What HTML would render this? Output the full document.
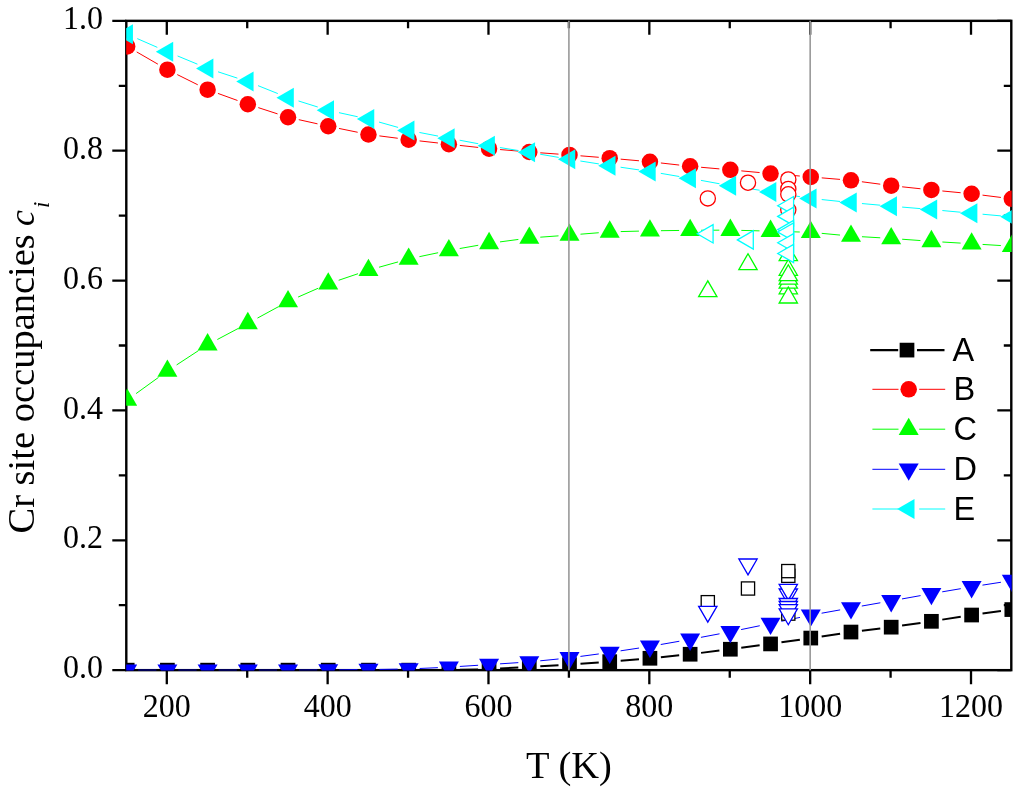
<!DOCTYPE html>
<html><head><meta charset="utf-8"><style>
html,body{margin:0;padding:0;background:#fff;}
svg{display:block;will-change:transform;}
text{font-family:"Liberation Serif",serif;}
text.ls{font-family:"Liberation Sans",sans-serif;}
</style></head><body>
<svg width="1024" height="794" viewBox="0 0 1024 794">
<rect width="1024" height="794" fill="#fff"/>
<defs><clipPath id="pc"><rect x="126.20" y="20.85" width="885.50" height="649.65"/></clipPath></defs>
<rect x="126.30" y="20.85" width="885.00" height="649.30" fill="none" stroke="#000" stroke-width="2.4"/>
<path d="M166.80 670.15V684.15M166.80 20.85V34.85M247.22 670.15V677.65M247.22 20.85V28.35M327.64 670.15V684.15M327.64 20.85V34.85M408.06 670.15V677.65M408.06 20.85V28.35M488.48 670.15V684.15M488.48 20.85V34.85M568.90 670.15V677.65M568.90 20.85V28.35M649.33 670.15V684.15M649.33 20.85V34.85M729.75 670.15V677.65M729.75 20.85V28.35M810.17 670.15V684.15M810.17 20.85V34.85M890.59 670.15V677.65M890.59 20.85V28.35M971.01 670.15V684.15M971.01 20.85V34.85M126.30 670.15H112.30M1011.30 670.15H997.30M126.30 605.22H118.80M1011.30 605.22H1003.80M126.30 540.29H112.30M1011.30 540.29H997.30M126.30 475.36H118.80M1011.30 475.36H1003.80M126.30 410.43H112.30M1011.30 410.43H997.30M126.30 345.50H118.80M1011.30 345.50H1003.80M126.30 280.57H112.30M1011.30 280.57H997.30M126.30 215.64H118.80M1011.30 215.64H1003.80M126.30 150.71H112.30M1011.30 150.71H997.30M126.30 85.78H118.80M1011.30 85.78H1003.80M126.30 20.85H112.30M1011.30 20.85H997.30" stroke="#000" stroke-width="2.3" fill="none"/>
<g clip-path="url(#pc)">
<path d="M138.19 670.15L156.40 670.15M178.40 670.15L196.61 670.15M218.61 670.15L236.82 670.15M258.82 670.15L277.03 670.15M299.03 670.15L317.24 670.15M339.24 670.15L357.45 670.15M379.45 670.15L397.66 670.15M419.66 670.11L437.87 670.06M459.87 669.79L478.09 669.41M500.07 668.56L518.31 667.52M540.28 666.28L558.52 665.25M580.47 663.82L598.75 662.46M620.68 660.72L638.96 659.19M660.87 657.17L679.19 655.34M701.05 652.88L719.43 650.60M741.25 647.80L759.65 645.36M781.44 642.34L799.88 639.66M821.65 636.44L840.10 633.67M861.90 630.71L880.27 628.49M902.07 625.58L920.51 622.90M942.27 619.62L960.74 616.73M982.51 613.55L1000.92 611.05" stroke="#000" stroke-width="2" fill="none"/>
<rect x="119.84" y="662.80" width="14.70" height="14.70" fill="#000"/>
<rect x="160.05" y="662.80" width="14.70" height="14.70" fill="#000"/>
<rect x="200.26" y="662.80" width="14.70" height="14.70" fill="#000"/>
<rect x="240.47" y="662.80" width="14.70" height="14.70" fill="#000"/>
<rect x="280.68" y="662.80" width="14.70" height="14.70" fill="#000"/>
<rect x="320.89" y="662.80" width="14.70" height="14.70" fill="#000"/>
<rect x="361.10" y="662.80" width="14.70" height="14.70" fill="#000"/>
<rect x="401.31" y="662.80" width="14.70" height="14.70" fill="#000"/>
<rect x="441.52" y="662.67" width="14.70" height="14.70" fill="#000"/>
<rect x="481.73" y="661.83" width="14.70" height="14.70" fill="#000"/>
<rect x="521.94" y="659.55" width="14.70" height="14.70" fill="#000"/>
<rect x="562.15" y="657.28" width="14.70" height="14.70" fill="#000"/>
<rect x="602.37" y="654.29" width="14.70" height="14.70" fill="#000"/>
<rect x="642.58" y="650.92" width="14.70" height="14.70" fill="#000"/>
<rect x="682.79" y="646.89" width="14.70" height="14.70" fill="#000"/>
<rect x="723.00" y="641.89" width="14.70" height="14.70" fill="#000"/>
<rect x="763.21" y="636.57" width="14.70" height="14.70" fill="#000"/>
<rect x="803.42" y="630.72" width="14.70" height="14.70" fill="#000"/>
<rect x="843.63" y="624.69" width="14.70" height="14.70" fill="#000"/>
<rect x="883.84" y="619.82" width="14.70" height="14.70" fill="#000"/>
<rect x="924.05" y="613.97" width="14.70" height="14.70" fill="#000"/>
<rect x="964.26" y="607.67" width="14.70" height="14.70" fill="#000"/>
<rect x="1004.47" y="602.22" width="14.70" height="14.70" fill="#000"/>
<path d="M136.71 51.94L157.88 64.17M177.25 74.58L197.76 84.78M217.95 93.42L237.48 100.48M258.28 107.62L277.57 113.88M298.77 119.66L317.51 123.84M339.02 128.44L357.68 132.27M379.36 135.89L397.75 138.26M419.59 140.91L437.94 142.98M459.81 145.42L478.15 147.43M500.05 149.55L518.33 151.09M540.27 152.81L558.53 154.13M580.47 155.82L598.75 157.29M620.67 159.15L638.97 160.78M660.86 162.98L679.21 165.06M701.09 167.27L719.39 168.89M741.30 170.87L759.60 172.56M781.52 174.49L799.81 176.02M821.73 177.86L840.02 179.40M861.88 181.76L880.28 184.20M902.13 186.81L920.46 188.76M942.35 190.97L960.66 192.72M982.52 195.13L1000.91 197.45" stroke="#f00" stroke-width="1" fill="none"/>
<circle cx="127.19" cy="46.43" r="8.25" fill="#f00"/>
<circle cx="167.40" cy="69.68" r="8.25" fill="#f00"/>
<circle cx="207.61" cy="89.68" r="8.25" fill="#f00"/>
<circle cx="247.82" cy="104.22" r="8.25" fill="#f00"/>
<circle cx="288.03" cy="117.27" r="8.25" fill="#f00"/>
<circle cx="328.24" cy="126.23" r="8.25" fill="#f00"/>
<circle cx="368.45" cy="134.48" r="8.25" fill="#f00"/>
<circle cx="408.66" cy="139.67" r="8.25" fill="#f00"/>
<circle cx="448.87" cy="144.22" r="8.25" fill="#f00"/>
<circle cx="489.08" cy="148.63" r="8.25" fill="#f00"/>
<circle cx="529.29" cy="152.01" r="8.25" fill="#f00"/>
<circle cx="569.50" cy="154.93" r="8.25" fill="#f00"/>
<circle cx="609.72" cy="158.18" r="8.25" fill="#f00"/>
<circle cx="649.93" cy="161.75" r="8.25" fill="#f00"/>
<circle cx="690.14" cy="166.29" r="8.25" fill="#f00"/>
<circle cx="730.35" cy="169.86" r="8.25" fill="#f00"/>
<circle cx="770.56" cy="173.57" r="8.25" fill="#f00"/>
<circle cx="810.77" cy="176.94" r="8.25" fill="#f00"/>
<circle cx="850.98" cy="180.32" r="8.25" fill="#f00"/>
<circle cx="891.19" cy="185.64" r="8.25" fill="#f00"/>
<circle cx="931.40" cy="189.93" r="8.25" fill="#f00"/>
<circle cx="971.61" cy="193.76" r="8.25" fill="#f00"/>
<circle cx="1011.82" cy="198.82" r="8.25" fill="#f00"/>
<path d="M136.10 393.59L158.49 377.40M176.61 364.93L198.40 350.68M217.33 339.51L238.10 328.51M257.48 318.10L278.37 306.74M298.10 297.05L318.17 288.24M338.66 280.28L358.04 273.71M379.05 267.22L398.07 261.91M419.42 256.67L438.11 252.72M459.71 248.54L478.25 245.27M499.99 241.90L518.39 239.44M540.27 237.18L558.53 235.85M580.47 234.19L598.75 232.74M620.71 231.59L638.93 231.12M660.93 230.69L679.14 230.46M701.14 230.26L719.35 230.17M741.34 230.40L759.56 230.87M781.55 231.48L799.77 232.01M821.72 233.35L840.03 235.07M861.96 236.73L880.21 237.79M902.16 239.23L920.43 240.56M942.38 242.01L960.63 243.10M982.59 244.43L1000.84 245.55" stroke="#0f0" stroke-width="1" fill="none"/>
<polygon points="127.19,388.49 117.19,405.81 137.19,405.81" fill="#0f0"/>
<polygon points="167.40,359.41 157.40,376.73 177.40,376.73" fill="#0f0"/>
<polygon points="207.61,333.11 197.61,350.43 217.61,350.43" fill="#0f0"/>
<polygon points="247.82,311.81 237.82,329.13 257.82,329.13" fill="#0f0"/>
<polygon points="288.03,289.93 278.03,307.25 298.03,307.25" fill="#0f0"/>
<polygon points="328.24,272.27 318.24,289.59 338.24,289.59" fill="#0f0"/>
<polygon points="368.45,258.63 358.45,275.95 378.45,275.95" fill="#0f0"/>
<polygon points="408.66,247.40 398.66,264.72 418.66,264.72" fill="#0f0"/>
<polygon points="448.87,238.90 438.87,256.22 458.87,256.22" fill="#0f0"/>
<polygon points="489.08,231.82 479.08,249.14 499.08,249.14" fill="#0f0"/>
<polygon points="529.29,226.43 519.29,243.75 539.29,243.75" fill="#0f0"/>
<polygon points="569.50,223.51 559.50,240.83 579.50,240.83" fill="#0f0"/>
<polygon points="609.72,220.33 599.72,237.65 619.72,237.65" fill="#0f0"/>
<polygon points="649.93,219.29 639.93,236.61 659.93,236.61" fill="#0f0"/>
<polygon points="690.14,218.77 680.14,236.09 700.14,236.09" fill="#0f0"/>
<polygon points="730.35,218.57 720.35,235.89 740.35,235.89" fill="#0f0"/>
<polygon points="770.56,219.61 760.56,236.93 780.56,236.93" fill="#0f0"/>
<polygon points="810.77,220.78 800.77,238.10 820.77,238.10" fill="#0f0"/>
<polygon points="850.98,224.55 840.98,241.87 860.98,241.87" fill="#0f0"/>
<polygon points="891.19,226.88 881.19,244.20 901.19,244.20" fill="#0f0"/>
<polygon points="931.40,229.81 921.40,247.13 941.40,247.13" fill="#0f0"/>
<polygon points="971.61,232.21 961.61,249.53 981.61,249.53" fill="#0f0"/>
<polygon points="1011.82,234.68 1001.82,252.00 1021.82,252.00" fill="#0f0"/>
<path d="M138.19 670.15L156.40 670.15M178.40 670.15L196.61 670.15M218.61 670.15L236.82 670.15M258.82 670.15L277.03 670.15M299.03 670.10L317.24 670.01M339.24 669.85L357.45 669.67M379.45 669.41L397.66 669.14M419.65 668.48L437.88 667.66M459.85 666.45L478.11 665.28M500.06 663.84L518.32 662.63M540.24 660.81L558.56 658.97M580.41 656.42L598.81 653.95M620.59 650.84L639.05 648.04M660.76 644.50L679.30 641.26M700.95 637.33L719.54 633.82M741.12 629.57L759.78 625.74M781.33 621.29L800.00 617.40M821.60 613.21L840.15 609.89M861.81 606.04L880.36 602.78M902.02 598.93L920.57 595.60M942.24 591.82L960.76 588.68M982.48 585.14L1000.95 582.25" stroke="#00f" stroke-width="1" fill="none"/>
<polygon points="127.19,681.70 117.19,664.38 137.19,664.38" fill="#00f"/>
<polygon points="167.40,681.70 157.40,664.38 177.40,664.38" fill="#00f"/>
<polygon points="207.61,681.70 197.61,664.38 217.61,664.38" fill="#00f"/>
<polygon points="247.82,681.70 237.82,664.38 257.82,664.38" fill="#00f"/>
<polygon points="288.03,681.70 278.03,664.38 298.03,664.38" fill="#00f"/>
<polygon points="328.24,681.50 318.24,664.18 338.24,664.18" fill="#00f"/>
<polygon points="368.45,681.11 358.45,663.79 378.45,663.79" fill="#00f"/>
<polygon points="408.66,680.53 398.66,663.21 418.66,663.21" fill="#00f"/>
<polygon points="448.87,678.71 438.87,661.39 458.87,661.39" fill="#00f"/>
<polygon points="489.08,676.11 479.08,658.79 499.08,658.79" fill="#00f"/>
<polygon points="529.29,673.45 519.29,656.13 539.29,656.13" fill="#00f"/>
<polygon points="569.50,669.43 559.50,652.10 579.50,652.10" fill="#00f"/>
<polygon points="609.72,664.04 599.72,646.72 619.72,646.72" fill="#00f"/>
<polygon points="649.93,657.93 639.93,640.61 659.93,640.61" fill="#00f"/>
<polygon points="690.14,650.92 680.14,633.60 700.14,633.60" fill="#00f"/>
<polygon points="730.35,643.32 720.35,626.00 740.35,626.00" fill="#00f"/>
<polygon points="770.56,635.08 760.56,617.76 780.56,617.76" fill="#00f"/>
<polygon points="810.77,626.70 800.77,609.38 820.77,609.38" fill="#00f"/>
<polygon points="850.98,619.49 840.98,602.17 860.98,602.17" fill="#00f"/>
<polygon points="891.19,612.42 881.19,595.10 901.19,595.10" fill="#00f"/>
<polygon points="931.40,605.21 921.40,587.89 941.40,587.89" fill="#00f"/>
<polygon points="971.61,598.39 961.61,581.07 981.61,581.07" fill="#00f"/>
<polygon points="1011.82,592.09 1001.82,574.77 1021.82,574.77" fill="#00f"/>
<path d="M137.27 38.62L157.32 47.36M177.57 55.96L197.44 64.18M218.06 71.81L237.37 78.13M258.03 85.65L277.82 93.57M298.52 100.97L317.75 107.02M338.99 112.67L357.70 116.75M379.04 122.06L398.07 127.41M419.46 132.48L438.07 136.09M459.68 140.22L478.28 143.73M499.94 147.55L518.44 150.56M540.13 154.21L558.67 157.41M580.37 161.00L598.85 163.92M620.60 167.23L639.04 169.91M660.77 173.34L679.29 176.51M700.95 180.36L719.53 183.78M741.22 187.42L759.68 190.22M781.41 193.65L799.91 196.66M821.71 199.56L840.04 201.46M861.94 203.56L880.23 205.19M902.15 207.08L920.44 208.62M942.35 210.54L960.66 212.23M982.57 214.23L1000.87 215.88" stroke="#0ff" stroke-width="1" fill="none"/>
<polygon points="115.64,34.23 132.96,24.23 132.96,44.23" fill="#0ff"/>
<polygon points="155.85,51.76 173.17,41.76 173.17,61.76" fill="#0ff"/>
<polygon points="196.06,68.38 213.38,58.38 213.38,78.38" fill="#0ff"/>
<polygon points="236.27,81.56 253.59,71.56 253.59,91.56" fill="#0ff"/>
<polygon points="276.48,97.66 293.81,87.66 293.81,107.66" fill="#0ff"/>
<polygon points="316.69,110.32 334.02,100.32 334.02,120.32" fill="#0ff"/>
<polygon points="356.91,119.09 374.23,109.09 374.23,129.09" fill="#0ff"/>
<polygon points="397.12,130.39 414.44,120.39 414.44,140.39" fill="#0ff"/>
<polygon points="437.33,138.18 454.65,128.18 454.65,148.18" fill="#0ff"/>
<polygon points="477.54,145.78 494.86,135.78 494.86,155.78" fill="#0ff"/>
<polygon points="517.75,152.33 535.07,142.33 535.07,162.33" fill="#0ff"/>
<polygon points="557.96,159.28 575.28,149.28 575.28,169.28" fill="#0ff"/>
<polygon points="598.17,165.64 615.49,155.64 615.49,175.64" fill="#0ff"/>
<polygon points="638.38,171.49 655.70,161.49 655.70,181.49" fill="#0ff"/>
<polygon points="678.59,178.37 695.91,168.37 695.91,188.37" fill="#0ff"/>
<polygon points="718.80,185.77 736.12,175.77 736.12,195.77" fill="#0ff"/>
<polygon points="759.01,191.88 776.33,181.88 776.33,201.88" fill="#0ff"/>
<polygon points="799.22,198.43 816.54,188.43 816.54,208.43" fill="#0ff"/>
<polygon points="839.43,202.59 856.75,192.59 856.75,212.59" fill="#0ff"/>
<polygon points="879.64,206.16 896.96,196.16 896.96,216.16" fill="#0ff"/>
<polygon points="919.85,209.54 937.17,199.54 937.17,219.54" fill="#0ff"/>
<polygon points="960.06,213.24 977.38,203.24 977.38,223.24" fill="#0ff"/>
<polygon points="1000.27,216.87 1017.59,206.87 1017.59,226.87" fill="#0ff"/>
<rect x="701.20" y="595.60" width="13.20" height="13.20" fill="#fff" stroke="#000" stroke-width="1.3"/>
<rect x="741.40" y="581.90" width="13.20" height="13.20" fill="#fff" stroke="#000" stroke-width="1.3"/>
<rect x="781.70" y="569.20" width="13.20" height="13.20" fill="#fff" stroke="#000" stroke-width="1.3"/>
<rect x="781.70" y="564.50" width="13.20" height="13.20" fill="#fff" stroke="#000" stroke-width="1.3"/>
<rect x="781.70" y="599.40" width="13.20" height="13.20" fill="#fff" stroke="#000" stroke-width="1.3"/>
<rect x="781.70" y="607.00" width="13.20" height="13.20" fill="#fff" stroke="#000" stroke-width="1.3"/>
<circle cx="707.80" cy="198.40" r="7.60" fill="#fff" stroke="#f00" stroke-width="1.3"/>
<circle cx="748.00" cy="182.70" r="7.60" fill="#fff" stroke="#f00" stroke-width="1.3"/>
<circle cx="788.30" cy="179.40" r="7.60" fill="#fff" stroke="#f00" stroke-width="1.3"/>
<circle cx="788.30" cy="188.90" r="7.60" fill="#fff" stroke="#f00" stroke-width="1.3"/>
<circle cx="788.30" cy="194.30" r="7.60" fill="#fff" stroke="#f00" stroke-width="1.3"/>
<circle cx="788.30" cy="209.80" r="7.60" fill="#fff" stroke="#f00" stroke-width="1.3"/>
<polygon points="707.80,280.83 698.65,296.68 716.95,296.68" fill="#fff" stroke="#0f0" stroke-width="1.3"/>
<polygon points="748.00,253.73 738.85,269.58 757.15,269.58" fill="#fff" stroke="#0f0" stroke-width="1.3"/>
<polygon points="788.30,244.85 779.15,260.70 797.45,260.70" fill="#fff" stroke="#0f0" stroke-width="1.3"/>
<polygon points="788.30,277.95 779.15,293.80 797.45,293.80" fill="#fff" stroke="#0f0" stroke-width="1.3"/>
<polygon points="788.30,259.45 779.15,275.30 797.45,275.30" fill="#fff" stroke="#0f0" stroke-width="1.3"/>
<polygon points="788.30,272.25 779.15,288.10 797.45,288.10" fill="#fff" stroke="#0f0" stroke-width="1.3"/>
<polygon points="788.30,268.25 779.15,284.10 797.45,284.10" fill="#fff" stroke="#0f0" stroke-width="1.3"/>
<polygon points="788.30,264.75 779.15,280.60 797.45,280.60" fill="#fff" stroke="#0f0" stroke-width="1.3"/>
<polygon points="788.30,287.15 779.15,303.00 797.45,303.00" fill="#fff" stroke="#0f0" stroke-width="1.3"/>
<polygon points="707.80,622.17 698.65,606.32 716.95,606.32" fill="#fff" stroke="#00f" stroke-width="1.3"/>
<polygon points="748.00,574.87 738.85,559.02 757.15,559.02" fill="#fff" stroke="#00f" stroke-width="1.3"/>
<polygon points="788.30,604.85 779.15,589.00 797.45,589.00" fill="#fff" stroke="#00f" stroke-width="1.3"/>
<polygon points="788.30,600.15 779.15,584.30 797.45,584.30" fill="#fff" stroke="#00f" stroke-width="1.3"/>
<polygon points="788.30,614.35 779.15,598.50 797.45,598.50" fill="#fff" stroke="#00f" stroke-width="1.3"/>
<polygon points="788.30,617.35 779.15,601.50 797.45,601.50" fill="#fff" stroke="#00f" stroke-width="1.3"/>
<polygon points="788.30,620.45 779.15,604.60 797.45,604.60" fill="#fff" stroke="#00f" stroke-width="1.3"/>
<polygon points="788.30,624.75 779.15,608.90 797.45,608.90" fill="#fff" stroke="#00f" stroke-width="1.3"/>
<polygon points="697.23,233.80 713.08,224.65 713.08,242.95" fill="#fff" stroke="#0ff" stroke-width="1.3"/>
<polygon points="737.43,239.90 753.28,230.75 753.28,249.05" fill="#fff" stroke="#0ff" stroke-width="1.3"/>
<polygon points="777.73,205.70 793.58,196.55 793.58,214.85" fill="#fff" stroke="#0ff" stroke-width="1.3"/>
<polygon points="777.73,216.40 793.58,207.25 793.58,225.55" fill="#fff" stroke="#0ff" stroke-width="1.3"/>
<polygon points="777.73,229.60 793.58,220.45 793.58,238.75" fill="#fff" stroke="#0ff" stroke-width="1.3"/>
<polygon points="777.73,232.00 793.58,222.85 793.58,241.15" fill="#fff" stroke="#0ff" stroke-width="1.3"/>
<polygon points="777.73,242.80 793.58,233.65 793.58,251.95" fill="#fff" stroke="#0ff" stroke-width="1.3"/>
<polygon points="777.73,253.50 793.58,244.35 793.58,262.65" fill="#fff" stroke="#0ff" stroke-width="1.3"/>
</g>
<line x1="568.90" y1="20.85" x2="568.90" y2="670.15" stroke="#999" stroke-width="1.6"/>
<line x1="810.17" y1="20.85" x2="810.17" y2="670.15" stroke="#999" stroke-width="1.6"/>
<g font-size="32" fill="#000">
<text transform="translate(166.80 717.2) scale(1 1.05)" text-anchor="middle">200</text>
<text transform="translate(327.64 717.2) scale(1 1.05)" text-anchor="middle">400</text>
<text transform="translate(488.48 717.2) scale(1 1.05)" text-anchor="middle">600</text>
<text transform="translate(649.33 717.2) scale(1 1.05)" text-anchor="middle">800</text>
<text transform="translate(810.17 717.2) scale(1 1.05)" text-anchor="middle">1000</text>
<text transform="translate(971.01 717.2) scale(1 1.05)" text-anchor="middle">1200</text>
<text transform="translate(103 678.25) scale(1 1.05)" text-anchor="end">0.0</text>
<text transform="translate(103 548.39) scale(1 1.05)" text-anchor="end">0.2</text>
<text transform="translate(103 418.53) scale(1 1.05)" text-anchor="end">0.4</text>
<text transform="translate(103 288.67) scale(1 1.05)" text-anchor="end">0.6</text>
<text transform="translate(103 158.81) scale(1 1.05)" text-anchor="end">0.8</text>
<text transform="translate(103 28.95) scale(1 1.05)" text-anchor="end">1.0</text>
</g>
<path d="M870.2 350.10H898.2M917 350.10H944.5" stroke="#000" stroke-width="2.2"/>
<rect x="899.65" y="342.75" width="14.70" height="14.70" fill="#000"/>
<text x="952.50" y="360.70" class="ls" font-size="32.5">A</text>
<path d="M872.4 389.30H898.5M919.2 389.30H945.2" stroke="#f00" stroke-width="1"/>
<circle cx="908.70" cy="389.30" r="8.25" fill="#f00"/>
<text x="953.50" y="399.90" class="ls" font-size="32.5">B</text>
<path d="M872.4 429.20H898.5M919.2 429.20H945.2" stroke="#0f0" stroke-width="1"/>
<polygon points="908.70,417.65 898.70,434.97 918.70,434.97" fill="#0f0"/>
<text x="953.50" y="439.80" class="ls" font-size="32.5">C</text>
<path d="M872.4 469.30H898.5M919.2 469.30H945.2" stroke="#00f" stroke-width="1"/>
<polygon points="908.70,480.85 898.70,463.53 918.70,463.53" fill="#00f"/>
<text x="953.50" y="479.90" class="ls" font-size="32.5">D</text>
<path d="M872.4 509.00H898.5M919.2 509.00H945.2" stroke="#0ff" stroke-width="1"/>
<polygon points="897.15,509.00 914.47,499.00 914.47,519.00" fill="#0ff"/>
<text x="953.50" y="519.60" class="ls" font-size="32.5">E</text>
<text x="569" y="778" font-size="38.5" text-anchor="middle">T (K)</text>
<text transform="translate(34.3 533.5) rotate(-90)" font-size="38.5">Cr site occupancies</text>
<text transform="translate(34.3 226.0) rotate(-90)" font-size="36" font-style="italic">c</text>
<text transform="translate(48.8 208.0) rotate(-90)" font-size="23" font-style="italic">i</text>
</svg>
</body></html>
